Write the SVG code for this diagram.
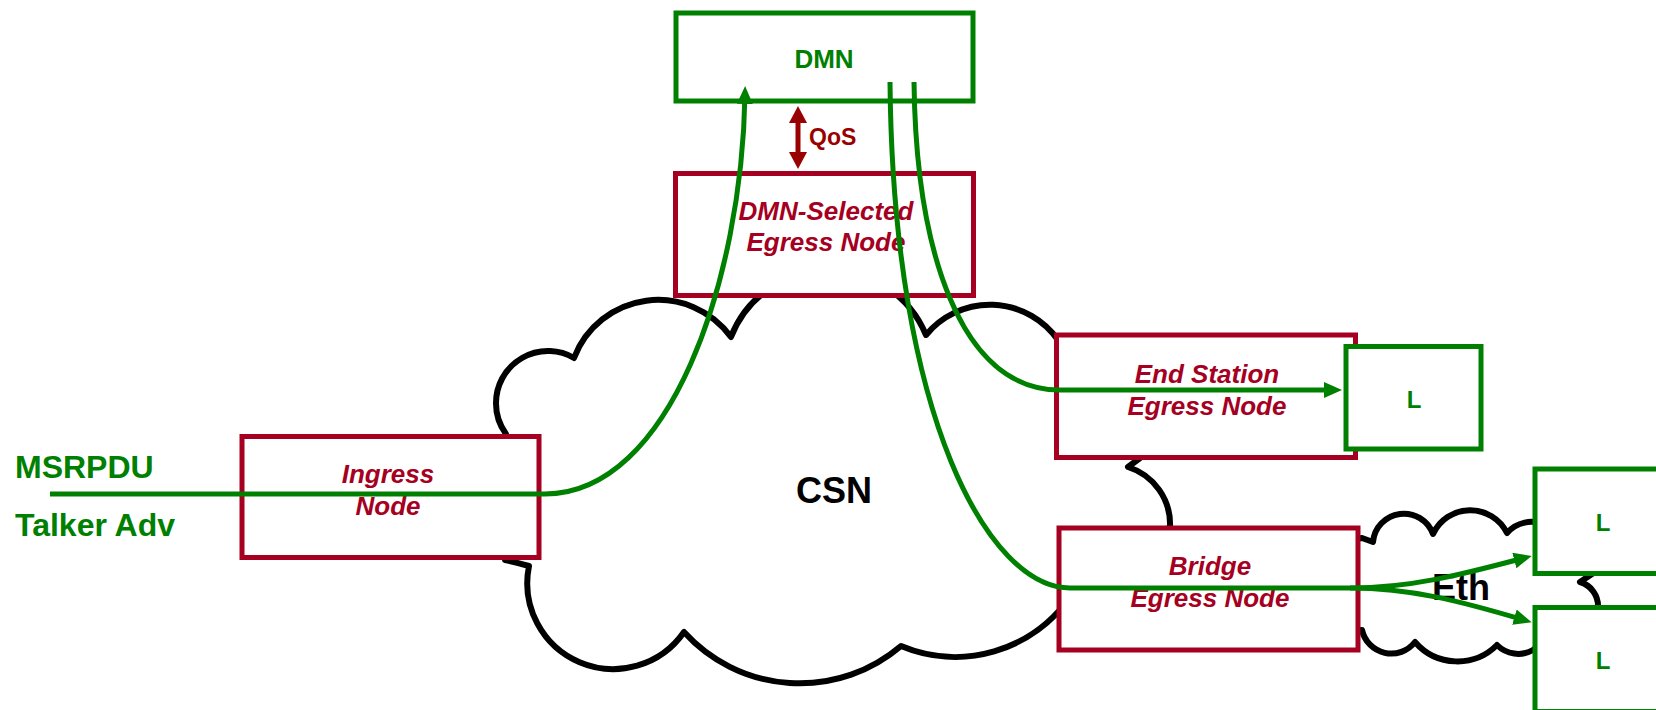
<svg xmlns="http://www.w3.org/2000/svg" width="1656" height="710" viewBox="0 0 1656 710">
<style>
text{font-family:"Liberation Sans",Arial,sans-serif;font-weight:bold}
.cloud{fill:#fff;stroke:#000;stroke-width:6;stroke-linejoin:round;stroke-linecap:round}
.rbox{fill:#fff;stroke:#A50021;stroke-width:5}
.gbox{fill:#fff;stroke:#008000;stroke-width:5}
.rlab{fill:#A50021;font-style:italic;font-size:26px;text-anchor:middle}
.glab{fill:#008000;text-anchor:middle}
.flow{fill:none;stroke:#008000;stroke-width:5}
</style>
<defs>
<marker id="ga" markerUnits="userSpaceOnUse" markerWidth="18" markerHeight="16" refX="10" refY="8" orient="auto"><path d="M0,0 L18,8 L0,16 z" fill="#008000"/></marker>
<marker id="ra" markerUnits="userSpaceOnUse" markerWidth="18" markerHeight="18" refX="8" refY="9" orient="auto-start-reverse"><path d="M0,0 L17,9 L0,18 z" fill="#990000"/></marker>
</defs>
<g id="csn">
<path class="cloud" d="M506,470 L506,434 A52 52 0 0 1 496 403 A52 52 0 0 1 574 358 A90 90 0 0 1 731 337 A105 105 0 0 1 926 335 A83 83 0 0 1 1058 340 L1140,458 L1128,467 A60 60 0 0 1 1170 527 L1070,597 A140 140 0 0 1 901 646 A156 156 0 0 1 684 632 A86 86 0 0 1 529 566 Q515,562 505,560 Z"/>
<text x="834" y="503" font-size="36" text-anchor="middle" fill="#000">CSN</text>
</g>
<g id="eth">
<path class="cloud" d="M1350,540 L1362,538 L1373,542 A31 31 0 0 1 1433 534 A41 41 0 0 1 1507 533 A32 32 0 0 1 1545 525 L1592,574 L1580,582 A25 25 0 0 1 1598 607 L1545,640 L1533,650 A30 30 0 0 1 1497 645 A56 56 0 0 1 1415 642 A30 30 0 0 1 1362 630 L1350,630 Z"/>
<text x="1432" y="600" font-size="36" fill="#000">Eth</text>
</g>
<g id="dmn">
<rect class="gbox" x="676" y="13" width="297" height="88"/>
<text class="glab" x="824" y="68" font-size="26">DMN</text>
</g>
<g id="dmn-selected">
<rect class="rbox" x="675.5" y="173.5" width="298" height="122"/>
<text class="rlab" x="826" y="220">DMN-Selected</text>
<text class="rlab" x="826" y="251">Egress Node</text>
</g>
<g id="ingress">
<rect class="rbox" x="242" y="436.5" width="297" height="121"/>
<text class="rlab" x="388" y="483">Ingress</text>
<text class="rlab" x="388" y="515">Node</text>
</g>
<g id="endstation">
<rect class="rbox" x="1056.5" y="335" width="299" height="122.5"/>
<text class="rlab" x="1207" y="383">End Station</text>
<text class="rlab" x="1207" y="415">Egress Node</text>
</g>
<g id="bridge">
<rect class="rbox" x="1059" y="528" width="299" height="122"/>
<text class="rlab" x="1210" y="575">Bridge</text>
<text class="rlab" x="1210" y="607">Egress Node</text>
</g>
<g id="l1">
<rect class="gbox" x="1346" y="346.5" width="135" height="102.5"/>
<text class="glab" x="1414" y="408" font-size="24">L</text>
</g>
<g id="l2">
<rect class="gbox" x="1535" y="469" width="135" height="104.5"/>
<text class="glab" x="1603" y="531" font-size="24">L</text>
</g>
<g id="l3">
<rect class="gbox" x="1535" y="607.5" width="135" height="104"/>
<text class="glab" x="1603" y="669" font-size="24">L</text>
</g>
<g id="talker">
<text x="15" y="478" font-size="32" fill="#008000">MSRPDU</text>
<text x="15" y="536" font-size="32" fill="#008000">Talker Adv</text>
</g>
<g id="connectors">
<path d="M798,115 V160" stroke="#990000" stroke-width="5" fill="none" marker-start="url(#ra)" marker-end="url(#ra)"/>
<text x="809" y="145" font-size="23" fill="#990000">QoS</text>
<path class="flow" d="M50,494 H545 C670,494 742,280 745,94" marker-end="url(#ga)"/>
<path class="flow" d="M914,82 C916,250 960,390 1060,390 H1334" marker-end="url(#ga)"/>
<path class="flow" d="M890,82 C893,420 990,588 1070,588 H1350 C1410,588 1460,575 1524,558" marker-end="url(#ga)"/>
<path class="flow" d="M1350,588 C1410,588 1460,601 1524,620" marker-end="url(#ga)"/>
</g>
</svg>
